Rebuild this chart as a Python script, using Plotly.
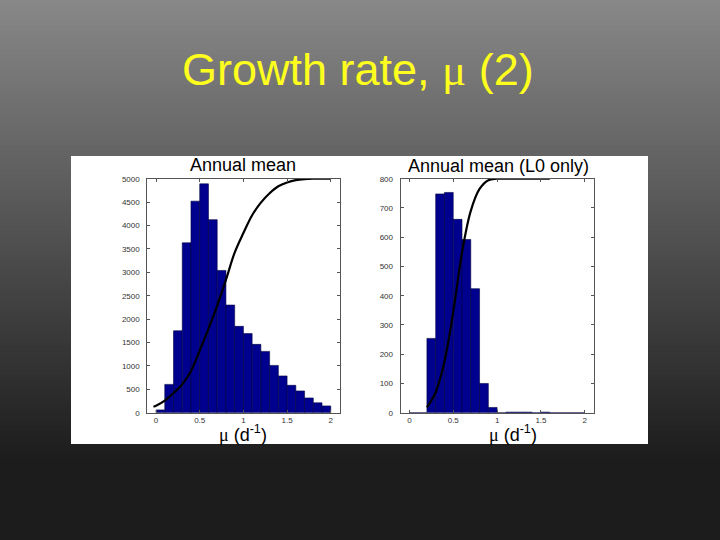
import plotly.graph_objects as go

# ---------------- data ----------------
BIN_WIDTH = 0.1
BIN_CENTERS = [round(0.05 + 0.1 * i, 2) for i in range(20)]

LEFT_COUNTS = [60, 605, 1750, 3630, 4520, 4890, 4125, 3040, 2300, 1845,
               1690, 1460, 1310, 1010, 785, 585, 465, 315, 210, 145]
RIGHT_COUNTS = [0, 0, 254, 748, 753, 661, 592, 424, 100, 18,
                0, 2, 2, 2, 0, 2, 0, 0, 0, 0]

LEFT_CURVE_MU = [-0.03, 0.0, 0.1, 0.2, 0.3, 0.4, 0.5, 0.6, 0.7, 0.8, 0.9,
                 1.0, 1.1, 1.2, 1.3, 1.4, 1.5, 1.6, 1.7, 1.8, 2.0]
LEFT_CURVE_VAL = [128, 150, 260, 420, 605, 890, 1330, 1790, 2290, 2840, 3420,
                  3840, 4220, 4490, 4690, 4840, 4920, 4970, 4993, 5000, 5000]

RIGHT_CURVE_MU = [0.2, 0.3, 0.4, 0.5, 0.6, 0.7, 0.8, 0.9, 1.0, 1.2, 1.6]
RIGHT_CURVE_VAL = [18, 70, 175, 345, 548, 690, 765, 795, 800, 800, 800]

X_TICKS = [0, 0.5, 1, 1.5, 2]
X_TICK_TEXT = ["0", "0.5", "1", "1.5", "2"]
LEFT_Y_TICKS = list(range(0, 5001, 500))
RIGHT_Y_TICKS = list(range(0, 801, 100))

TITLE = "Growth rate, <span style='font-family:Liberation Serif'>μ</span> (2)"
LEFT_TITLE = "Annual mean"
RIGHT_TITLE = "Annual mean (L0 only)"
X_LABEL = "<span style='font-family:Liberation Serif'>μ</span> (d<sup>-1</sup>)"

# ---------------- figure ----------------
W, H = 720, 540


def px(x):
    return x / W


def py(y):
    return 1 - y / H


BAR_COLOR = "#00008f"
BAR_EDGE = "#000040"

fig = go.Figure()
fig.add_trace(go.Bar(x=BIN_CENTERS, y=LEFT_COUNTS, width=BIN_WIDTH,
                     marker=dict(color=BAR_COLOR, line=dict(color=BAR_EDGE, width=0.6)),
                     xaxis="x", yaxis="y", showlegend=False))
fig.add_trace(go.Scatter(x=LEFT_CURVE_MU, y=LEFT_CURVE_VAL, mode="lines",
                         line=dict(color="black", width=2.2, shape="spline"),
                         xaxis="x", yaxis="y", showlegend=False))
fig.add_trace(go.Bar(x=BIN_CENTERS, y=RIGHT_COUNTS, width=BIN_WIDTH,
                     marker=dict(color=BAR_COLOR, line=dict(color=BAR_EDGE, width=0.6)),
                     xaxis="x2", yaxis="y2", showlegend=False))
fig.add_trace(go.Scatter(x=RIGHT_CURVE_MU, y=RIGHT_CURVE_VAL, mode="lines",
                         line=dict(color="black", width=2.2, shape="spline"),
                         xaxis="x2", yaxis="y2", showlegend=False))

tickfont = dict(family="Liberation Sans, Arial", size=8, color="#333333")
axis_common = dict(showline=True, linecolor="#555555", linewidth=1, mirror="allticks",
                   ticks="inside", ticklen=3, tickcolor="#555555", showgrid=False,
                   zeroline=False, tickfont=tickfont, fixedrange=True)

y_top, y_bot = 178.7, 412.7
fig.update_layout(
    width=W, height=H,
    margin=dict(l=0, r=0, t=0, b=0, autoexpand=False),
    paper_bgcolor="#1c1c1c", plot_bgcolor="rgba(0,0,0,0)",
    bargap=0,
    xaxis=dict(domain=[px(147.3), px(339.5)], range=[-0.1, 2.1],
               tickvals=X_TICKS, ticktext=X_TICK_TEXT, anchor="y", **axis_common),
    yaxis=dict(domain=[py(y_bot), py(y_top)], range=[0, 5000],
               tickvals=LEFT_Y_TICKS, anchor="x", ticklabelstandoff=5, **axis_common),
    xaxis2=dict(domain=[px(400.6), px(593.6)], range=[-0.1, 2.1],
                tickvals=X_TICKS, ticktext=X_TICK_TEXT, anchor="y2", **axis_common),
    yaxis2=dict(domain=[py(y_bot), py(y_top)], range=[0, 800],
                tickvals=RIGHT_Y_TICKS, anchor="x2", ticklabelstandoff=5, **axis_common),
)

# background gradient (top grey to dark) + white panel
shapes = []
top_c, bot_c, grad_end = 136, 28, 460
step = 5
for i in range(0, grad_end, step):
    t = (i + step / 2) / grad_end
    c = round(top_c + (bot_c - top_c) * t)
    shapes.append(dict(type="rect", xref="paper", yref="paper", layer="below",
                       x0=0, x1=1, y0=py(i + step + 0.5), y1=py(i),
                       fillcolor=f"rgb({c},{c},{c})", line=dict(width=0)))
shapes.append(dict(type="rect", xref="paper", yref="paper", layer="below",
                   x0=px(71), x1=px(648), y0=py(444), y1=py(156),
                   fillcolor="white", line=dict(width=0)))
fig.update_layout(shapes=shapes)

annotations = [
    dict(text=TITLE, x=px(358), y=py(69), xref="paper", yref="paper",
         xanchor="center", yanchor="middle", showarrow=False,
         font=dict(family="Liberation Sans, Arial", size=45, color="#ffff1e")),
    dict(text=LEFT_TITLE, x=px(243), y=py(165), xref="paper", yref="paper",
         xanchor="center", yanchor="middle", showarrow=False,
         font=dict(family="Liberation Sans, Arial", size=18, color="black")),
    dict(text=RIGHT_TITLE, x=px(498), y=py(166), xref="paper", yref="paper",
         xanchor="center", yanchor="middle", showarrow=False,
         font=dict(family="Liberation Sans, Arial", size=18, color="black")),
    dict(text=X_LABEL, x=px(243), y=py(433), xref="paper", yref="paper",
         xanchor="center", yanchor="middle", showarrow=False,
         font=dict(family="Liberation Sans, Arial", size=18, color="black")),
    dict(text=X_LABEL, x=px(513), y=py(433), xref="paper", yref="paper",
         xanchor="center", yanchor="middle", showarrow=False,
         font=dict(family="Liberation Sans, Arial", size=18, color="black")),
]
fig.update_layout(annotations=annotations)

fig.write_html("out.html",
               config={"displayModeBar": False, "staticPlot": True},
               post_script="document.body.style.margin='0';document.body.style.padding='0';document.body.style.overflow='hidden';")
